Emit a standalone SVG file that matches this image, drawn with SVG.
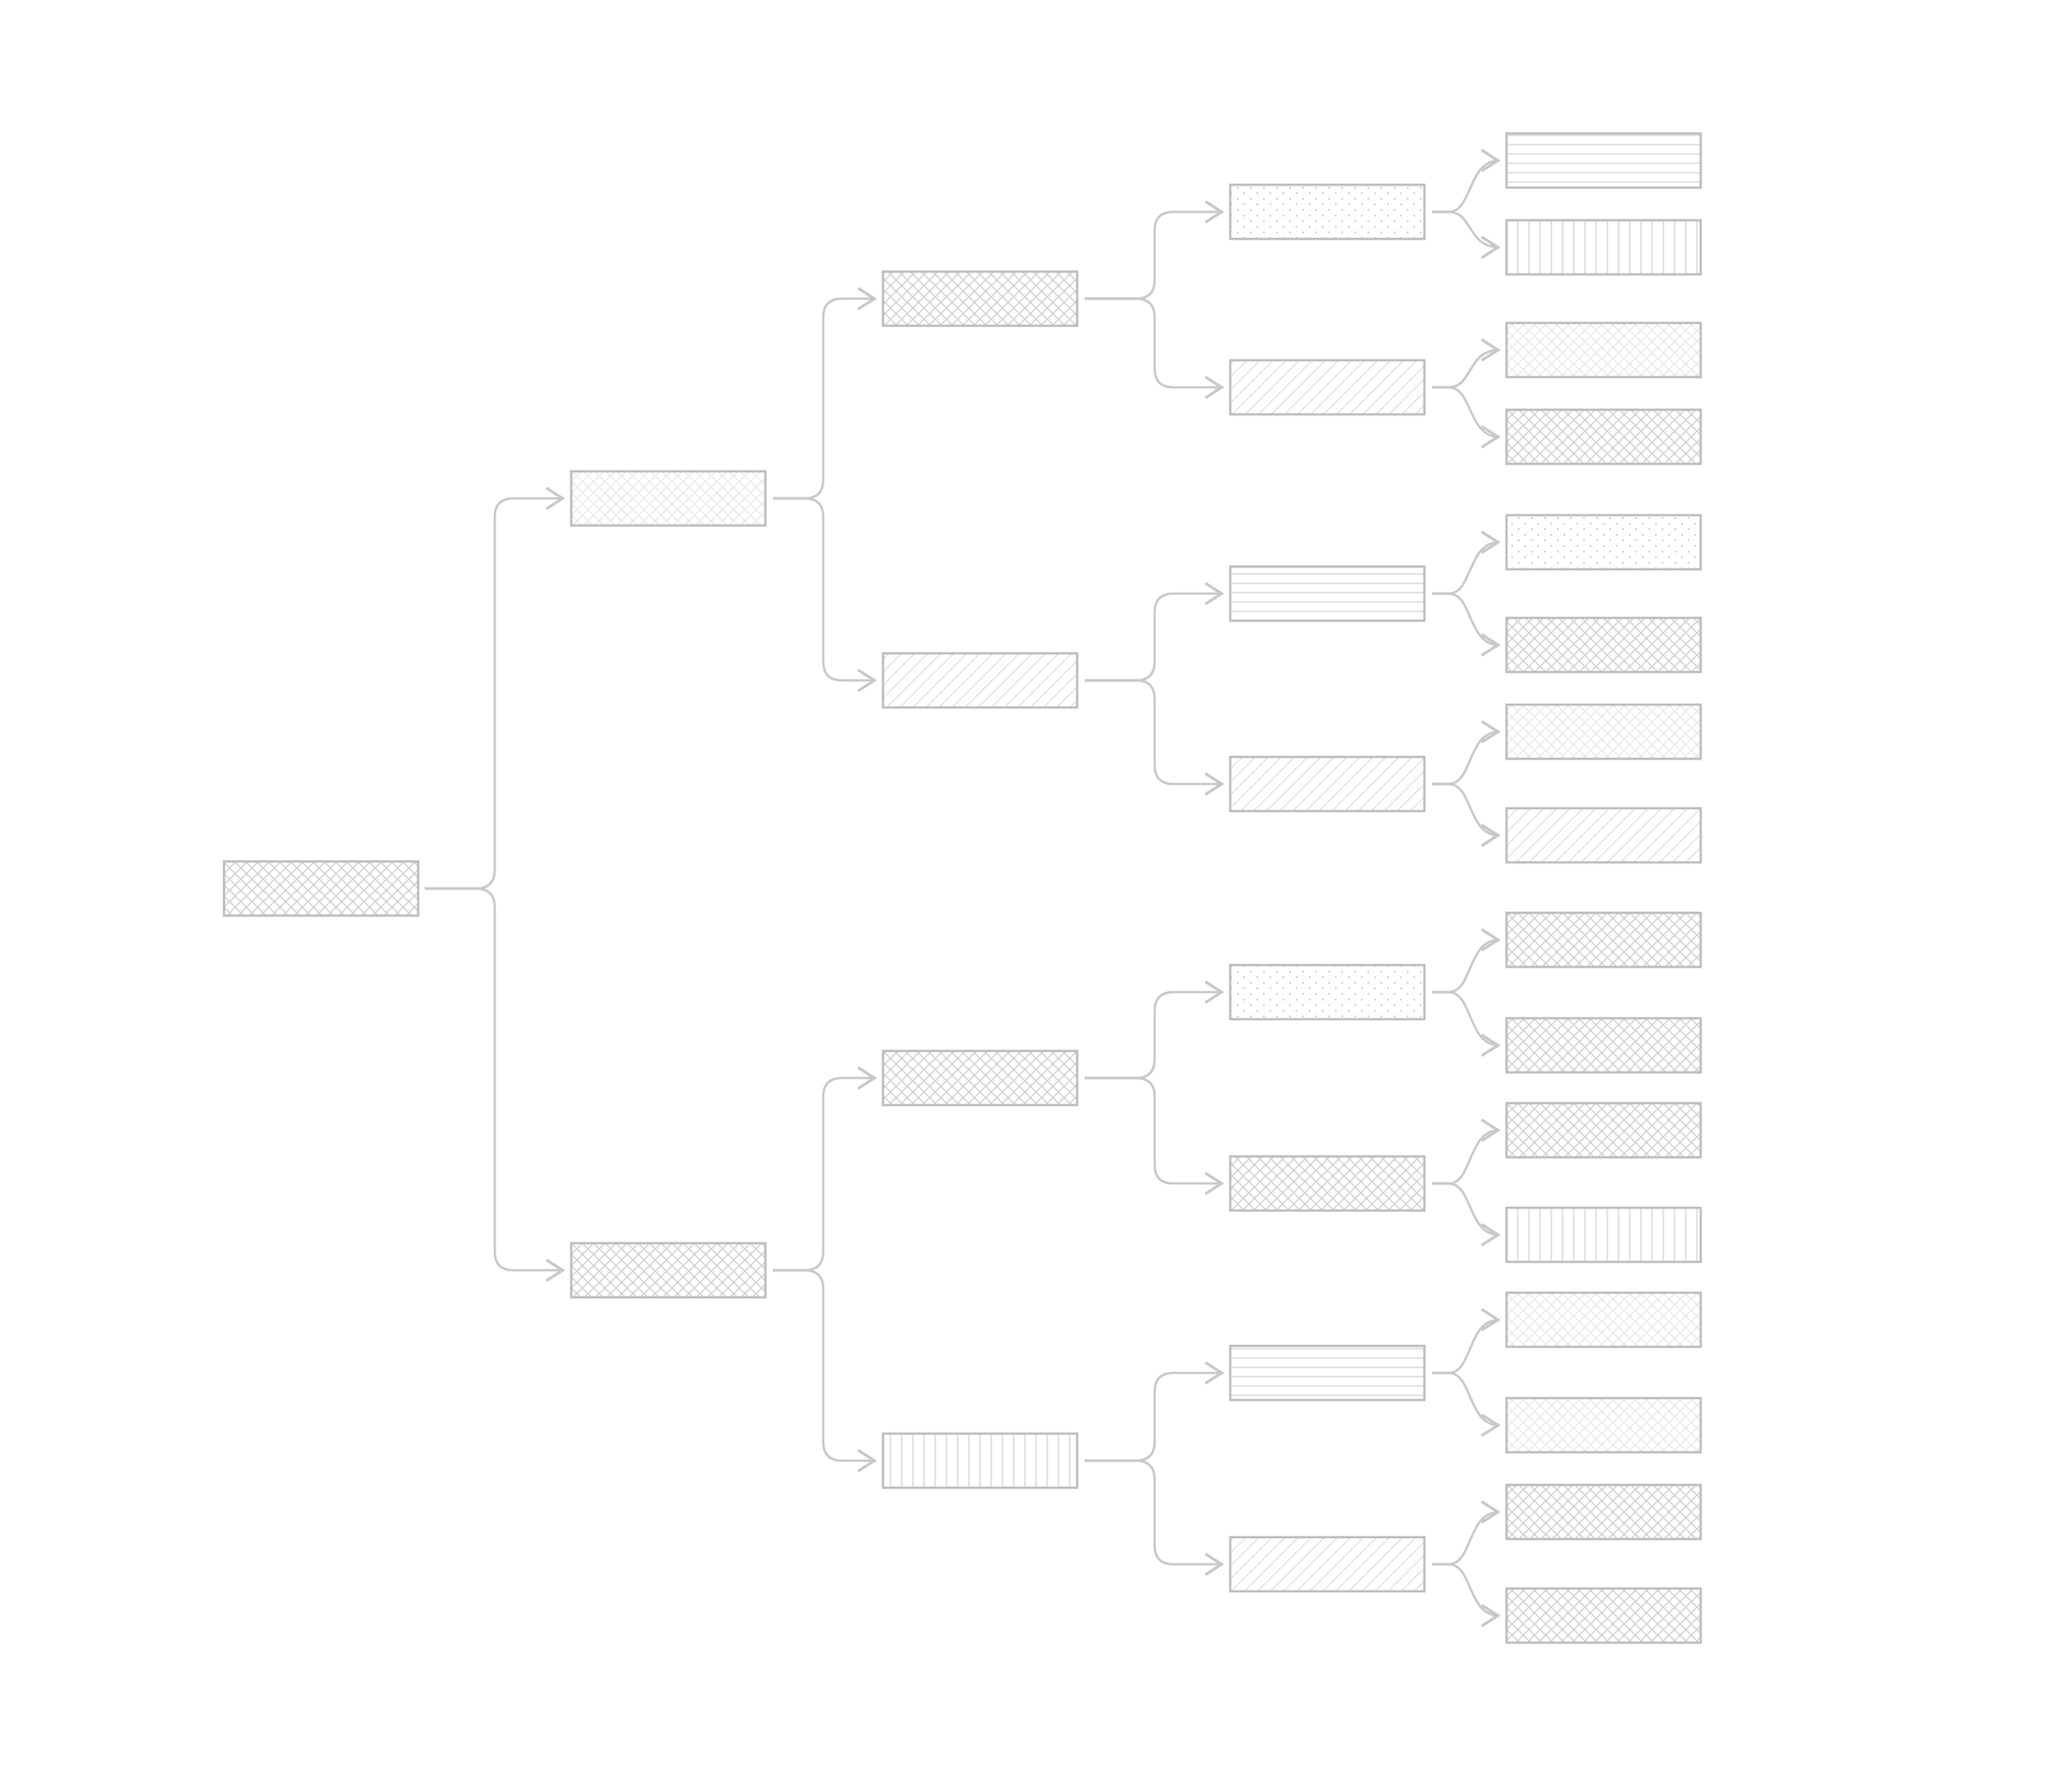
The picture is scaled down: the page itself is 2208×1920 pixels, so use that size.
<svg xmlns="http://www.w3.org/2000/svg" width="2208" height="1920" viewBox="0 0 2208 1920">
<style>
.n rect{stroke:#bdbdbd;stroke-width:2.5}
.c path{fill:none;stroke:#c8c8c8;stroke-width:2.5;marker-end:url(#ar)}
</style>
<defs>
<marker id="ar" markerUnits="userSpaceOnUse" markerWidth="30" markerHeight="30" refX="1" refY="0" viewBox="-16 -12 20 24" orient="auto"><path d="M-14,-9 L0,0 L-14,9" fill="none" stroke="#c8c8c8" stroke-width="2.5"/></marker>
<pattern id="x" patternUnits="userSpaceOnUse" width="12" height="12"><path d="M0,0 L12,12 M12,0 L0,12" stroke="#d0d0d0" stroke-width="1.3"/></pattern>
<pattern id="xl" patternUnits="userSpaceOnUse" width="12" height="12"><path d="M0,0 L12,12 M12,0 L0,12" stroke="#e6e6e6" stroke-width="1.2"/></pattern>
<pattern id="d" patternUnits="userSpaceOnUse" width="14" height="14"><path d="M-2,16 L16,-2 M-2,2 L2,-2 M12,16 L16,12" stroke="#dcdcdc" stroke-width="1.2"/></pattern>
<pattern id="p" patternUnits="userSpaceOnUse" width="14" height="12"><circle cx="3" cy="3" r="1" fill="#c8c8c8"/><circle cx="10" cy="9" r="1" fill="#c8c8c8"/></pattern>
<pattern id="h" patternUnits="userSpaceOnUse" width="10" height="10"><path d="M0,5 H10" stroke="#d6d6d6" stroke-width="1.3"/></pattern>
<pattern id="v" patternUnits="userSpaceOnUse" width="12" height="10"><path d="M6,0 V10" stroke="#d6d6d6" stroke-width="1.3"/></pattern>
</defs>
<rect width="2208" height="1920" fill="#fff"/>
<g class="c">
<path d="M455,952 H510 Q530,952 530,932 V554 Q530,534 550,534 H604"/>
<path d="M455,952 H510 Q530,952 530,972 V1341 Q530,1361 550,1361 H604"/>
<path d="M828,534 H862 Q882,534 882,514 V340 Q882,320 902,320 H938"/>
<path d="M828,534 H862 Q882,534 882,554 V709 Q882,729 902,729 H938"/>
<path d="M828,1361 H862 Q882,1361 882,1341 V1175 Q882,1155 902,1155 H938"/>
<path d="M828,1361 H862 Q882,1361 882,1381 V1545 Q882,1565 902,1565 H938"/>
<path d="M1162,320 H1217 Q1237,320 1237,300 V247 Q1237,227 1257,227 H1310"/>
<path d="M1162,320 H1217 Q1237,320 1237,340 V395 Q1237,415 1257,415 H1310"/>
<path d="M1162,729 H1217 Q1237,729 1237,709 V656 Q1237,636 1257,636 H1310"/>
<path d="M1162,729 H1217 Q1237,729 1237,749 V820 Q1237,840 1257,840 H1310"/>
<path d="M1162,1155 H1217 Q1237,1155 1237,1135 V1083 Q1237,1063 1257,1063 H1310"/>
<path d="M1162,1155 H1217 Q1237,1155 1237,1175 V1248 Q1237,1268 1257,1268 H1310"/>
<path d="M1162,1565 H1217 Q1237,1565 1237,1545 V1491 Q1237,1471 1257,1471 H1310"/>
<path d="M1162,1565 H1217 Q1237,1565 1237,1585 V1656 Q1237,1676 1257,1676 H1310"/>
<path d="M1534,227 H1552 C1578,227 1572,172 1606,172"/>
<path d="M1534,227 H1552 C1578,227 1572,265 1606,265"/>
<path d="M1534,415 H1552 C1578,415 1572,375 1606,375"/>
<path d="M1534,415 H1552 C1578,415 1572,468 1606,468"/>
<path d="M1534,636 H1552 C1578,636 1572,581 1606,581"/>
<path d="M1534,636 H1552 C1578,636 1572,691 1606,691"/>
<path d="M1534,840 H1552 C1578,840 1572,784 1606,784"/>
<path d="M1534,840 H1552 C1578,840 1572,895 1606,895"/>
<path d="M1534,1063 H1552 C1578,1063 1572,1007 1606,1007"/>
<path d="M1534,1063 H1552 C1578,1063 1572,1120 1606,1120"/>
<path d="M1534,1268 H1552 C1578,1268 1572,1211 1606,1211"/>
<path d="M1534,1268 H1552 C1578,1268 1572,1323 1606,1323"/>
<path d="M1534,1471 H1552 C1578,1471 1572,1414 1606,1414"/>
<path d="M1534,1471 H1552 C1578,1471 1572,1527 1606,1527"/>
<path d="M1534,1676 H1552 C1578,1676 1572,1620 1606,1620"/>
<path d="M1534,1676 H1552 C1578,1676 1572,1731 1606,1731"/>
</g>
<g class="n">
<g id="n0"><rect x="240" y="923" width="208" height="58" fill="url(#x)"/></g>
<g id="n1"><rect x="612" y="505" width="208" height="58" fill="url(#xl)"/></g>
<g id="n2"><rect x="612" y="1332" width="208" height="58" fill="url(#x)"/></g>
<g id="n3"><rect x="946" y="291" width="208" height="58" fill="url(#x)"/></g>
<g id="n4"><rect x="946" y="700" width="208" height="58" fill="url(#d)"/></g>
<g id="n5"><rect x="946" y="1126" width="208" height="58" fill="url(#x)"/></g>
<g id="n6"><rect x="946" y="1536" width="208" height="58" fill="url(#v)"/></g>
<g id="n7"><rect x="1318" y="198" width="208" height="58" fill="url(#p)"/></g>
<g id="n8"><rect x="1318" y="386" width="208" height="58" fill="url(#d)"/></g>
<g id="n9"><rect x="1318" y="607" width="208" height="58" fill="url(#h)"/></g>
<g id="n10"><rect x="1318" y="811" width="208" height="58" fill="url(#d)"/></g>
<g id="n11"><rect x="1318" y="1034" width="208" height="58" fill="url(#p)"/></g>
<g id="n12"><rect x="1318" y="1239" width="208" height="58" fill="url(#x)"/></g>
<g id="n13"><rect x="1318" y="1442" width="208" height="58" fill="url(#h)"/></g>
<g id="n14"><rect x="1318" y="1647" width="208" height="58" fill="url(#d)"/></g>
<g id="n15"><rect x="1614" y="143" width="208" height="58" fill="url(#h)"/></g>
<g id="n16"><rect x="1614" y="236" width="208" height="58" fill="url(#v)"/></g>
<g id="n17"><rect x="1614" y="346" width="208" height="58" fill="url(#xl)"/></g>
<g id="n18"><rect x="1614" y="439" width="208" height="58" fill="url(#x)"/></g>
<g id="n19"><rect x="1614" y="552" width="208" height="58" fill="url(#p)"/></g>
<g id="n20"><rect x="1614" y="662" width="208" height="58" fill="url(#x)"/></g>
<g id="n21"><rect x="1614" y="755" width="208" height="58" fill="url(#xl)"/></g>
<g id="n22"><rect x="1614" y="866" width="208" height="58" fill="url(#d)"/></g>
<g id="n23"><rect x="1614" y="978" width="208" height="58" fill="url(#x)"/></g>
<g id="n24"><rect x="1614" y="1091" width="208" height="58" fill="url(#x)"/></g>
<g id="n25"><rect x="1614" y="1182" width="208" height="58" fill="url(#x)"/></g>
<g id="n26"><rect x="1614" y="1294" width="208" height="58" fill="url(#v)"/></g>
<g id="n27"><rect x="1614" y="1385" width="208" height="58" fill="url(#xl)"/></g>
<g id="n28"><rect x="1614" y="1498" width="208" height="58" fill="url(#xl)"/></g>
<g id="n29"><rect x="1614" y="1591" width="208" height="58" fill="url(#x)"/></g>
<g id="n30"><rect x="1614" y="1702" width="208" height="58" fill="url(#x)"/></g>
</g>
</svg>
